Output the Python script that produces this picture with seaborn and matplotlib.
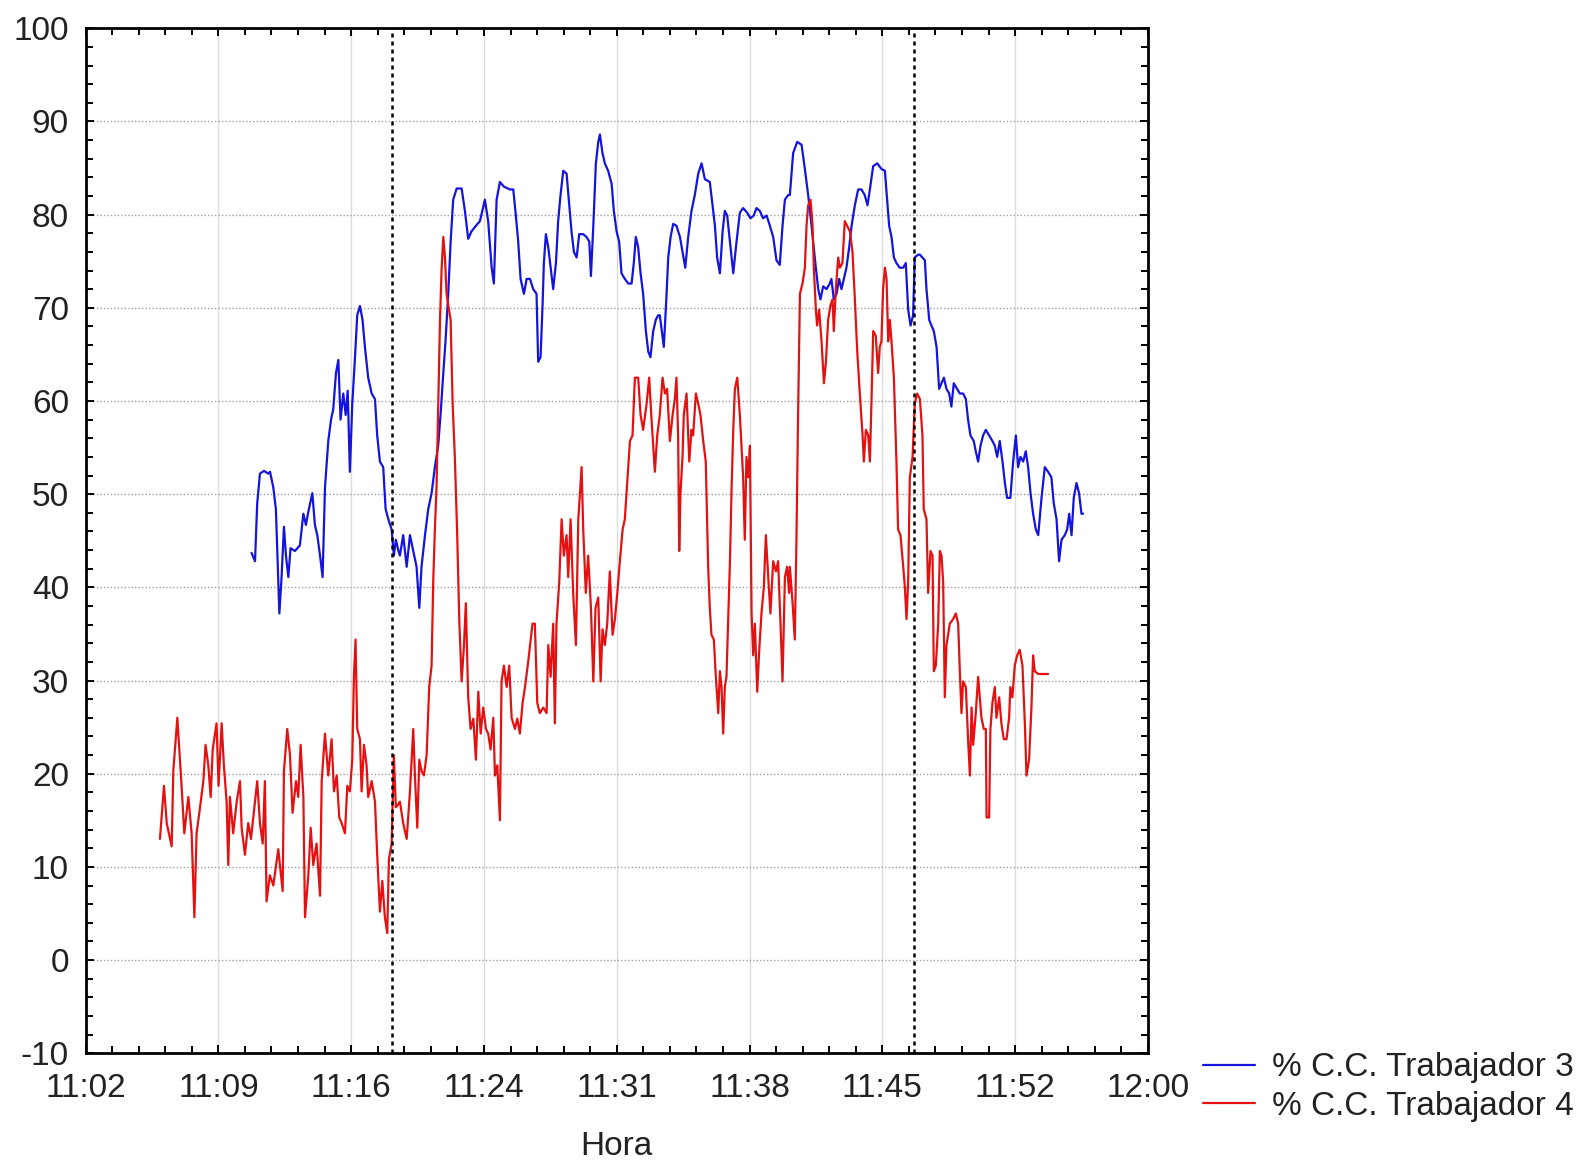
import matplotlib
matplotlib.use("Agg")
import numpy as np
import pandas as pd
import matplotlib.pyplot as plt
import seaborn as sns
from matplotlib.ticker import MultipleLocator, FixedLocator
from matplotlib.lines import Line2D

# ---- data (time in minutes after 11:02, value in %) ----
series_names = ["% C.C. Trabajador 3", "% C.C. Trabajador 4"]

t3 = [9.06, 9.25, 9.37, 9.52, 9.74, 9.97, 10.07, 10.25, 10.39, 10.58, 10.70, 10.83, 10.94, 11.07,
      11.19, 11.43, 11.70, 11.89, 12.03, 12.16, 12.38, 12.52, 12.65, 12.80, 12.94, 13.07, 13.25,
      13.40, 13.52, 13.67, 13.80, 13.92, 14.07, 14.20, 14.31, 14.43, 14.56, 14.71, 14.83, 14.98,
      15.12, 15.25, 15.43, 15.62, 15.80, 15.92, 16.07, 16.25, 16.38, 16.53, 16.71, 16.83, 16.94,
      17.07, 17.16, 17.34, 17.53, 17.71, 17.89, 18.07, 18.22, 18.34, 18.53, 18.71, 18.89, 19.07,
      19.25, 19.38, 19.53, 19.65, 19.80, 19.93, 20.07, 20.26, 20.53, 20.71, 20.89, 21.07, 21.31,
      21.53, 21.80, 21.98, 22.17, 22.29, 22.44, 22.62, 22.84, 23.17, 23.35, 23.49, 23.62, 23.75,
      23.93, 24.08, 24.26, 24.44, 24.62, 24.71, 24.84, 24.95, 25.02, 25.13, 25.26, 25.39, 25.53,
      25.68, 25.80, 25.93, 26.08, 26.26, 26.41, 26.53, 26.66, 26.81, 26.95, 27.17, 27.35, 27.50,
      27.59, 27.72, 27.86, 27.99, 28.08, 28.22, 28.35, 28.53, 28.72, 28.84, 28.99, 29.13, 29.26,
      29.44, 29.63, 29.81, 29.93, 30.04, 30.17, 30.30, 30.44, 30.59, 30.72, 30.84, 30.99, 31.13,
      31.26, 31.35, 31.57, 31.72, 31.81, 31.94, 32.08, 32.26, 32.45, 32.59, 32.74, 32.90, 33.08,
      33.26, 33.45, 33.63, 33.81, 34.08, 34.23, 34.36, 34.48, 34.63, 34.78, 34.90, 35.03, 35.18,
      35.36, 35.54, 35.72, 35.90, 36.12, 36.30, 36.48, 36.63, 36.81, 36.99, 37.18, 37.36, 37.54,
      37.72, 37.90, 38.05, 38.18, 38.36, 38.45, 38.63, 38.85, 39.09, 39.27, 39.45, 39.58, 39.72,
      39.87, 40.00, 40.12, 40.27, 40.45, 40.63, 40.72, 40.85, 41.00, 41.14, 41.27, 41.40, 41.54,
      41.69, 41.82, 42.00, 42.18, 42.36, 42.54, 42.69, 42.82, 43.00, 43.22, 43.45, 43.64, 43.76,
      43.87, 44.00, 44.13, 44.27, 44.45, 44.64, 44.78, 44.91, 45.04, 45.18, 45.27, 45.45, 45.55,
      45.82, 45.91, 46.06, 46.18, 46.31, 46.46, 46.60, 46.73, 46.86, 47.00, 47.15, 47.27, 47.40,
      47.58, 47.73, 47.91, 48.06, 48.18, 48.31, 48.49, 48.60, 48.73, 48.86, 49.00, 49.15, 49.33,
      49.51, 49.64, 49.77, 49.91, 50.06, 50.19, 50.31, 50.49, 50.64, 50.79, 50.91, 51.04, 51.19,
      51.33, 51.46, 51.59, 51.73, 51.88, 52.01, 52.19, 52.37, 52.55, 52.73, 52.86, 53.01, 53.15,
      53.28, 53.46, 53.59, 53.70, 53.83, 53.95, 54.10, 54.24, 54.37, 54.46]
v3 = [43.7, 42.8, 49.0, 52.2, 52.5, 52.2, 52.4, 50.7, 48.4, 37.2, 41.1, 46.5, 43.4, 41.1,
      44.2, 43.9, 44.5, 47.9, 46.7, 48.1, 50.1, 46.7, 45.6, 43.4, 41.1, 50.7, 55.7,
      58.0, 59.1, 63.0, 64.4, 58.0, 60.8, 58.5, 61.1, 52.4, 59.7, 64.7, 69.2, 70.2,
      68.7, 65.8, 62.5, 60.8, 60.2, 56.3, 53.5, 52.9, 48.4, 47.3, 46.2, 43.4, 45.1,
      44.0, 43.4, 45.6, 42.2, 45.6, 43.9, 42.2, 37.8, 42.2, 45.6, 48.4, 50.1, 52.9,
      55.2, 58.5, 63.0, 66.4, 71.5, 77.1, 81.6, 82.8, 82.8, 80.4, 77.4, 78.2, 78.8,
      79.3, 81.6, 79.3, 74.3, 72.6, 81.6, 83.5, 83.0, 82.7, 82.7, 79.9, 77.1, 73.1,
      71.5, 73.1, 73.1, 72.0, 71.5, 64.2, 64.7, 70.3, 74.8, 77.9, 76.5, 74.3, 72.0,
      74.8, 79.3, 82.1, 84.7, 84.4, 81.0, 78.2, 76.0, 75.4, 77.9, 77.9, 77.6, 77.1,
      73.4, 78.8, 85.5, 87.8, 88.6, 86.6, 85.5, 84.7, 83.3, 80.4, 78.2, 77.1, 73.7,
      73.1, 72.6, 72.6, 74.8, 77.6, 76.5, 73.7, 71.5, 67.5, 65.3, 64.7, 67.5, 68.7,
      69.2, 69.2, 65.8, 71.5, 75.4, 77.6, 79.0, 78.8, 77.6, 76.0, 74.3, 77.6, 80.4,
      82.1, 84.4, 85.5, 83.8, 83.5, 81.0, 78.8, 75.4, 73.7, 78.2, 80.4, 79.9, 77.1,
      73.7, 77.1, 80.2, 80.7, 80.2, 79.6, 79.9, 80.7, 80.4, 79.6, 79.9, 78.8, 77.6,
      75.1, 74.6, 78.8, 81.6, 82.1, 82.1, 86.6, 87.8, 87.5, 84.9, 82.1, 79.9, 77.1,
      74.3, 72.0, 70.9, 72.3, 72.0, 72.6, 73.1, 70.9, 71.5, 73.1, 72.0, 73.1, 74.3,
      76.5, 78.8, 81.0, 82.7, 82.7, 82.1, 81.0, 82.7, 85.2, 85.5, 84.9, 84.7, 81.6,
      78.8, 77.6, 75.4, 74.8, 74.3, 74.3, 74.8, 69.8, 68.1, 69.2, 75.4, 75.7, 75.7,
      75.1, 72.0, 68.7, 68.1, 67.5, 65.8, 61.3, 61.9, 62.5, 61.3, 60.8, 59.4, 61.9,
      61.3, 60.8, 60.8, 60.2, 58.0, 56.3, 55.7, 54.6, 53.5, 55.2, 56.3, 56.9, 56.3,
      55.7, 55.2, 54.0, 55.7, 53.5, 51.2, 49.6, 49.6, 53.5, 56.3, 52.9, 54.0, 53.5,
      54.6, 52.9, 50.1, 47.9, 46.2, 45.6, 49.6, 52.9, 52.4, 51.8, 49.0, 47.3, 42.8,
      45.1, 45.6, 46.2, 47.9, 45.6, 49.6, 51.2, 50.1, 47.9, 47.9]

t4 = [4.06, 4.28, 4.43, 4.70, 4.79, 5.01, 5.24, 5.39, 5.61, 5.79, 5.94, 6.06, 6.21, 6.43,
      6.55, 6.70, 6.83, 6.94, 7.15, 7.26, 7.43, 7.55, 7.70, 7.79, 7.88, 8.06, 8.25, 8.43,
      8.52, 8.70, 8.88, 9.03, 9.25, 9.37, 9.52, 9.67, 9.79, 9.88, 10.06, 10.25, 10.52, 10.76,
      10.83, 11.01, 11.16, 11.30, 11.49, 11.61, 11.74, 11.89, 11.98, 12.16, 12.29, 12.43, 12.61,
      12.80, 12.89, 13.07, 13.25, 13.43, 13.56, 13.71, 13.85, 13.98, 14.16, 14.29, 14.43, 14.56,
      14.65, 14.74, 14.83, 14.98, 15.07, 15.20, 15.34, 15.43, 15.62, 15.80, 15.92, 16.07, 16.20,
      16.34, 16.47, 16.56, 16.71, 16.83, 16.94, 17.07, 17.16, 17.34, 17.53, 17.71, 17.89, 17.98,
      18.11, 18.22, 18.34, 18.47, 18.62, 18.76, 18.89, 18.98, 19.07, 19.16, 19.25, 19.35, 19.44,
      19.53, 19.62, 19.71, 19.80, 19.93, 20.04, 20.16, 20.29, 20.40, 20.53, 20.66, 20.76, 20.89,
      21.02, 21.17, 21.31, 21.44, 21.57, 21.71, 21.86, 21.98, 22.11, 22.26, 22.35, 22.48, 22.62,
      22.71, 22.84, 22.99, 23.13, 23.26, 23.44, 23.57, 23.71, 23.86, 23.99, 24.17, 24.40, 24.53,
      24.66, 24.80, 24.99, 25.17, 25.26, 25.39, 25.53, 25.62, 25.71, 25.86, 25.99, 26.11, 26.26,
      26.35, 26.48, 26.62, 26.77, 26.90, 27.08, 27.17, 27.31, 27.44, 27.59, 27.72, 27.84, 27.99,
      28.12, 28.22, 28.35, 28.48, 28.62, 28.77, 28.90, 29.03, 29.17, 29.32, 29.44, 29.57, 29.72,
      29.86, 29.99, 30.17, 30.30, 30.44, 30.63, 30.77, 30.90, 31.08, 31.21, 31.35, 31.50, 31.63,
      31.75, 31.90, 32.05, 32.17, 32.26, 32.35, 32.41, 32.48, 32.59, 32.66, 32.81, 32.96, 33.08,
      33.17, 33.32, 33.45, 33.57, 33.72, 33.86, 33.99, 34.08, 34.17, 34.30, 34.41, 34.54, 34.63,
      34.72, 34.81, 34.90, 34.99, 35.08, 35.18, 35.27, 35.36, 35.45, 35.58, 35.72, 35.81, 35.90,
      35.99, 36.08, 36.18, 36.27, 36.36, 36.45, 36.54, 36.67, 36.78, 36.90, 37.03, 37.14, 37.27,
      37.39, 37.54, 37.69, 37.81, 37.94, 38.05, 38.18, 38.30, 38.41, 38.45, 38.60, 38.72, 38.81,
      38.90, 39.00, 39.14, 39.27, 39.36, 39.45, 39.58, 39.69, 39.76, 39.87, 39.94, 40.05, 40.18,
      40.31, 40.42, 40.54, 40.67, 40.78, 40.85, 40.96, 41.09, 41.18, 41.32, 41.45, 41.58, 41.73,
      41.87, 42.00, 42.13, 42.27, 42.42, 42.49, 42.60, 42.73, 42.82, 42.91, 43.00, 43.14, 43.27,
      43.36, 43.45, 43.54, 43.64, 43.73, 43.82, 43.91, 44.00, 44.13, 44.27, 44.36, 44.49, 44.64,
      44.73, 44.82, 44.91, 45.00, 45.15, 45.27, 45.40, 45.55, 45.69, 45.76, 45.91, 46.00, 46.13,
      46.24, 46.31, 46.42, 46.55, 46.64, 46.73, 46.82, 46.91, 47.00, 47.09, 47.18, 47.37, 47.51,
      47.64, 47.73, 47.82, 47.91, 48.06, 48.18, 48.28, 48.37, 48.46, 48.60, 48.73, 48.82, 48.91,
      49.04, 49.15, 49.19, 49.33, 49.40, 49.51, 49.64, 49.73, 49.88, 50.00, 50.13, 50.28, 50.42,
      50.49, 50.60, 50.73, 50.86, 51.00, 51.15, 51.28, 51.37, 51.51, 51.64, 51.73, 51.82, 52.01,
      52.55]
v4 = [13.0, 18.7, 14.7, 12.2, 20.3, 26.0, 18.7, 13.6, 17.5, 13.6, 4.6, 13.6, 15.8, 19.2,
      23.1, 20.9, 17.5, 22.6, 25.4, 18.7, 25.4, 20.9, 17.0, 10.2, 17.5, 13.6, 17.0, 19.2,
      14.2, 11.3, 14.7, 13.0, 17.0, 19.2, 14.7, 12.5, 19.2, 6.3, 9.1, 8.0, 11.9, 7.4,
      20.3, 24.8, 22.0, 15.8, 19.2, 17.5, 23.1, 17.5, 4.6, 9.1, 14.2, 10.2, 12.5,
      6.9, 19.2, 24.3, 19.8, 23.7, 18.1, 19.8, 15.3, 14.7, 13.6, 18.7, 18.1, 21.5,
      30.4, 34.4, 24.8, 23.7, 18.1, 23.1, 20.9, 17.5, 19.2, 17.0, 11.3, 5.2, 8.5,
      4.6, 2.9, 10.8, 12.5, 22.0, 16.4, 16.7, 17.0, 14.7, 13.0, 18.1, 24.8, 19.8,
      14.2, 21.5, 20.3, 19.8, 22.0, 29.3, 31.6, 40.6, 46.2, 50.7, 59.1, 68.7, 74.3,
      77.6, 75.4, 71.5, 70.3, 68.7, 59.7, 54.0, 45.6, 36.6, 29.9, 33.8, 38.3, 28.2,
      24.8, 25.9, 21.5, 28.8, 24.3, 27.1, 24.8, 24.3, 22.6, 26.0, 19.8, 20.9, 15.0,
      29.9, 31.6, 29.3, 31.6, 26.0, 24.8, 25.9, 24.3, 27.6, 29.3, 32.1, 36.1, 36.1,
      27.6, 26.5, 27.1, 26.5, 33.8, 30.4, 36.1, 25.4, 36.1, 40.6, 47.3, 43.4, 45.6,
      41.1, 47.3, 39.4, 33.8, 47.3, 52.9, 46.2, 39.4, 43.4, 37.8, 29.9, 37.8, 38.9,
      29.9, 35.5, 33.8, 36.1, 41.7, 34.9, 36.6, 39.4, 42.8, 46.2, 47.3, 51.2, 55.7,
      56.3, 62.5, 62.5, 58.5, 56.9, 59.7, 62.5, 58.0, 52.4, 56.3, 58.5, 62.5, 60.8,
      61.3, 55.7, 58.5, 60.2, 62.5, 56.3, 43.9, 50.1, 54.0, 58.5, 60.8, 53.5, 56.9,
      56.3, 60.8, 59.7, 58.5, 55.7, 53.5, 42.2, 37.8, 34.9, 34.4, 30.4, 26.5, 31.0,
      29.3, 24.3, 29.3, 30.4, 36.1, 42.8, 50.7, 56.9, 61.3, 62.5, 58.5, 55.2, 51.8,
      45.1, 54.0, 51.8, 55.2, 37.2, 32.7, 36.1, 28.8, 33.3, 37.2, 40.0, 45.6, 41.1,
      37.2, 42.8, 41.7, 42.8, 36.1, 29.9, 41.1, 42.2, 39.4, 42.2, 38.3, 34.4, 45.1,
      58.5, 71.5, 72.6, 74.3, 78.8, 81.0, 81.6, 78.8, 74.3, 69.8, 68.1, 69.8, 66.4,
      61.9, 64.2, 68.7, 70.3, 70.9, 67.5, 72.0, 75.4, 74.3, 74.8, 79.3, 78.8, 78.2,
      76.0, 70.9, 65.3, 60.8, 56.3, 53.5, 56.9, 56.3, 53.5, 60.2, 67.5, 67.0, 63.0,
      65.8, 66.4, 72.0, 74.3, 73.1, 66.4, 68.7, 66.4, 62.5, 53.5, 46.2, 45.6, 42.2,
      40.0, 36.6, 40.6, 51.8, 54.0, 59.7, 60.8, 60.2, 56.3, 48.4, 47.3, 39.4, 43.9,
      43.4, 31.0, 31.6, 36.1, 43.9, 43.4, 40.6, 28.2, 33.8, 34.9, 36.1, 36.6, 37.2,
      36.1, 31.0, 26.5, 29.9, 29.3, 23.7, 19.8, 27.1, 23.1, 26.5, 30.4, 28.2, 26.0,
      24.8, 24.8, 15.3, 15.3, 24.8, 27.6, 29.3, 26.0, 28.2, 25.4, 23.7, 23.7, 26.0,
      29.3, 28.2, 31.6, 32.7, 33.3, 31.6, 25.4, 19.8, 21.5, 27.1, 32.7, 31.0, 30.7,
      30.7]

x_tick_labels = ["11:02", "11:09", "11:16", "11:24", "11:31", "11:38", "11:45", "11:52", "12:00"]
x_span = 58.0                      # minutes shown (11:02 -> 12:00)
y_min, y_max = -10, 100
event_times = [16.71, 45.24]       # dotted vertical markers (minutes after 11:02)
colors = ["#1414dc", "#e31212"]

# ---- style ----
sns.set_style("ticks")
plt.rcParams["font.family"] = ["Liberation Sans", "DejaVu Sans"]
plt.rcParams["axes.unicode_minus"] = False
plt.rcParams["text.color"] = "#222222"

fig = plt.figure(figsize=(15.79, 11.62), dpi=100)
ax = fig.add_axes([0.0542, 0.0936, 0.6728, 0.8821])

df = pd.concat([
    pd.DataFrame({"Minutos": t3, "Valor": v3, "Serie": series_names[0]}),
    pd.DataFrame({"Minutos": t4, "Valor": v4, "Serie": series_names[1]}),
], ignore_index=True)

sns.lineplot(data=df, x="Minutos", y="Valor", hue="Serie", hue_order=series_names,
             palette=colors, estimator=None, sort=False, linewidth=1.6,
             legend=False, ax=ax, zorder=3)

for t in event_times:
    ax.axvline(t, color="black", linestyle=(0, (1.6, 1.6)), linewidth=1.8, zorder=4)

ax.set_xlim(0, x_span)
ax.set_ylim(y_min, y_max)
ax.xaxis.set_major_locator(FixedLocator(np.linspace(0, x_span, len(x_tick_labels))))
ax.set_xticklabels(x_tick_labels)
ax.xaxis.set_minor_locator(MultipleLocator(x_span / 40))
ax.yaxis.set_major_locator(MultipleLocator(10))
ax.yaxis.set_minor_locator(MultipleLocator(2))

ax.set_axisbelow(True)
ax.xaxis.grid(True, which="major", linestyle="-", color="#dcdcdc", linewidth=1.0)
ax.yaxis.grid(True, which="major", linestyle=(0, (1, 1.5)), color="#a0a0a0", linewidth=1.0)

ax.tick_params(axis="both", which="both", direction="in", top=True, right=True,
               colors="black", width=1.4)
ax.tick_params(axis="both", which="major", length=6, labelsize=24, labelcolor="#222222")
ax.tick_params(axis="both", which="minor", length=5)
ax.tick_params(axis="x", which="major", pad=14)
ax.tick_params(axis="y", which="major", pad=12)
for s in ax.spines.values():
    s.set_linewidth(2.0)
    s.set_color("black")

ax.set_xlabel("Hora", fontsize=24, labelpad=20, color="#222222")
ax.set_ylabel("")

handles = [Line2D([0], [0], color=c, linewidth=1.6) for c in colors]
fig.legend(handles, series_names, loc="center left", bbox_to_anchor=(0.762, 0.0645),
           frameon=False, fontsize=24, handlelength=1.55, handletextpad=0.5,
           labelspacing=0.22, borderpad=0, borderaxespad=0)

fig.savefig("out.png", dpi=100)
